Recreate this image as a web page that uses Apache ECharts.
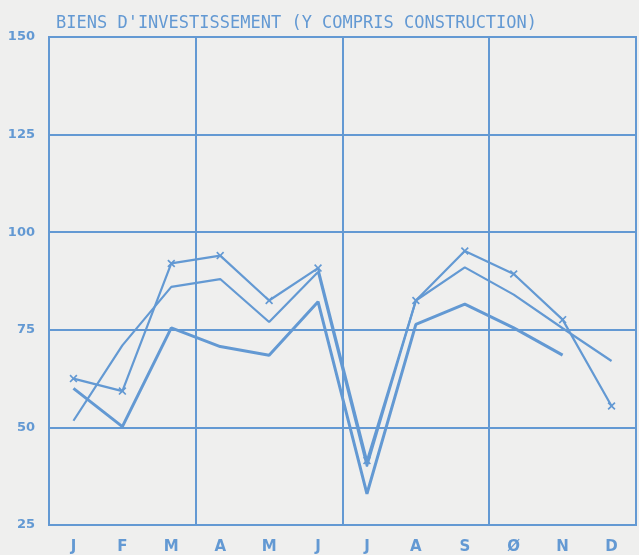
<!DOCTYPE html>
<html>
<head>
<meta charset="utf-8">
<script src="https://cdn.jsdelivr.net/npm/echarts@6/dist/echarts.min.js"></script>
<style>
  html, body { margin: 0; padding: 0; background: #efefee; }
  #chart { width: 639px; height: 555px; }
</style>
</head>
<body>
<div id="chart"></div>
<script>
// mois (le O est un zero barre sur l'original)
var months = ['J', 'F', 'M', 'A', 'M', 'J', 'J', 'A', 'S', 'Ø', 'N', 'D'];

// trois courbes
var serieCroix = [62.5, 59.3, 92, 94, 82.5, 90.8, 41.5, 82.5, 95.2, 89.3, 77.6, 55.5];
var serieMilieu = [51.7, 71, 86, 88, 77, 89.8, 40, 82.5, 91, 84, 75.4, 67];
var serieBasse = [60, 50.2, 75.5, 70.7, 68.5, 82.2, 33, 76.4, 81.6, 75.5, 68.5, null];

var yTicks = [25, 50, 75, 100, 125, 150];

var bleu = '#6399d3';
var croix = 'path://M0,1.5L1.5,0L5,3.5L8.5,0L10,1.5L6.5,5L10,8.5L8.5,10L5,6.5L1.5,10L0,8.5L3.5,5Z';

var chart = echarts.init(document.getElementById('chart'));

var option = {
    backgroundColor: '#efefee',
    animation: false,
    title: {
        text: "BIENS D'INVESTISSEMENT (Y COMPRIS CONSTRUCTION)",
        left: 51,
        top: 10,
        textStyle: {
            fontFamily: 'DejaVu Sans Mono',
            fontSize: 17,
            fontWeight: 'normal',
            color: bleu
        }
    },
    grid: {
        left: 49,
        right: 3,
        top: 37,
        bottom: 28,
        show: true,
        borderColor: bleu,
        borderWidth: 2,
        backgroundColor: 'transparent'
    },
    xAxis: [{
        type: 'category',
        data: months,
        boundaryGap: true,
        axisLine: { lineStyle: { color: bleu, width: 2 } },
        axisTick: { inside: true, length: 8, interval: 0, lineStyle: { color: bleu, width: 2 } },
        axisLabel: {
            interval: 0,
            margin: 15,
            color: bleu,
            fontFamily: 'DejaVu Sans',
            fontWeight: 'bold',
            fontSize: 15
        },
        // un trait vertical par trimestre
        splitLine: {
            show: true,
            interval: function (index) { return index % 3 === 0; },
            lineStyle: { color: bleu, width: 2 }
        }
    }, {
        type: 'category',
        data: months,
        position: 'top',
        boundaryGap: true,
        axisLine: { lineStyle: { color: bleu, width: 2 } },
        axisTick: { inside: true, length: 8, interval: 0, lineStyle: { color: bleu, width: 2 } },
        axisLabel: { show: false },
        splitLine: { show: false }
    }],
    yAxis: {
        type: 'value',
        min: yTicks[0],
        max: yTicks[yTicks.length - 1],
        interval: 25,
        axisLine: { show: true, lineStyle: { color: bleu, width: 2 } },
        axisTick: { show: false },
        axisLabel: {
            margin: 14,
            color: bleu,
            fontFamily: 'DejaVu Sans',
            fontWeight: 'bold',
            fontSize: 13
        },
        splitLine: { lineStyle: { color: bleu, width: 2 } }
    },
    series: [{
        type: 'line',
        data: serieCroix,
        symbol: croix,
        symbolSize: 8,
        itemStyle: { color: bleu },
        lineStyle: { color: bleu, width: 2.2 }
    }, {
        type: 'line',
        data: serieMilieu,
        symbol: 'none',
        lineStyle: { color: bleu, width: 2.2 }
    }, {
        type: 'line',
        data: serieBasse,
        symbol: 'none',
        lineStyle: { color: bleu, width: 3 }
    }]
};

chart.setOption(option);
</script>
</body>
</html>
